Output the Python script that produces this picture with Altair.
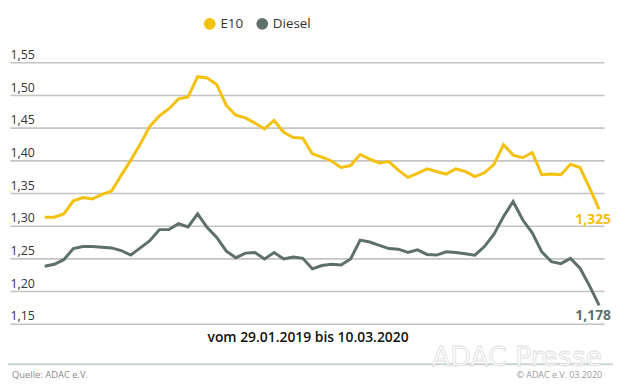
import altair as alt
import pandas as pd

# --- data (weekly, 29.01.2019 - 10.03.2020) ---
dates = pd.date_range("2019-01-29", periods=59, freq="7D").strftime("%Y-%m-%d").tolist()

e10 = [1.313, 1.313, 1.318, 1.338, 1.343, 1.341, 1.348, 1.353, 1.377, 1.400,
       1.425, 1.452, 1.468, 1.479, 1.494, 1.497, 1.528, 1.526, 1.516, 1.484,
       1.469, 1.465, 1.457, 1.448, 1.461, 1.443, 1.435, 1.434, 1.410, 1.405,
       1.399, 1.389, 1.392, 1.409, 1.402, 1.396, 1.398, 1.385, 1.374, 1.380,
       1.387, 1.383, 1.379, 1.387, 1.383, 1.375, 1.381, 1.394, 1.424, 1.408,
       1.404, 1.412, 1.378, 1.379, 1.378, 1.394, 1.389, 1.358, 1.325]

diesel = [1.238, 1.241, 1.248, 1.265, 1.268, 1.268, 1.267, 1.266, 1.262, 1.255,
          1.266, 1.277, 1.294, 1.294, 1.303, 1.298, 1.318, 1.297, 1.282, 1.261,
          1.251, 1.258, 1.259, 1.249, 1.259, 1.249, 1.252, 1.250, 1.234, 1.239,
          1.241, 1.240, 1.249, 1.278, 1.275, 1.270, 1.265, 1.264, 1.259, 1.263,
          1.256, 1.255, 1.260, 1.259, 1.257, 1.255, 1.268, 1.287, 1.314, 1.337,
          1.309, 1.289, 1.260, 1.245, 1.242, 1.250, 1.235, 1.208, 1.178]

series = ["E10", "Diesel"]
colors = ["#F3C10E", "#5F6F6C"]
y_ticks = [1.15, 1.20, 1.25, 1.30, 1.35, 1.40, 1.45, 1.50, 1.55]

subtitle = "vom 29.01.2019 bis 10.03.2020"
source = "Quelle: ADAC e.V."
copyright_txt = "© ADAC e.V. 03.2020"
watermark = "ADAC Presse"

FONT = "Open Sans"

df = pd.DataFrame({
    "datum": dates * 2,
    "sorte": ["E10"] * len(e10) + ["Diesel"] * len(diesel),
    "preis": e10 + diesel,
})

last = pd.DataFrame({
    "datum": [dates[-1], dates[-1]],
    "sorte": series,
    "preis": [e10[-1], diesel[-1]],
    "label": [f"{e10[-1]:.3f}".replace(".", ","), f"{diesel[-1]:.3f}".replace(".", ",")],
})

x_enc = alt.X("datum:T", axis=None,
              scale=alt.Scale(domain=["2019-01-03T14:00:00", "2020-03-13T15:00:00"]))
y_scale = alt.Scale(domain=[1.15, 1.55], nice=False, zero=False)
color_scale = alt.Scale(domain=series, range=colors)

y_axis = alt.Axis(values=y_ticks, grid=True, domain=False, ticks=False,
                  labelOverlap=False, labelFlush=False, labelBound=False,
                  labelAlign="left", labelPadding=0, labelBaseline="alphabetic",
                  labelOffset=-4, labelFontSize=12.5, labelColor="#333333",
                  labelFont=FONT,
                  labelExpr="replace(format(datum.value, '.2f'), '.', ',')",
                  gridColor="#C4C4C4", gridWidth=1.6)

lines = alt.Chart(df).mark_line(strokeWidth=3).encode(
    x=x_enc,
    y=alt.Y("preis:Q", scale=y_scale, title=None, axis=y_axis),
    color=alt.Color("sorte:N", scale=color_scale, sort=series,
                    legend=alt.Legend(title=None, orient="none", direction="horizontal",
                                      legendX=195, legendY=-46, symbolType="circle",
                                      symbolSize=140, symbolStrokeWidth=0,
                                      labelFontSize=13.5, labelFont=FONT, labelColor="#333333",
                                      columnPadding=12, labelOffset=4)),
)

end_labels = alt.Chart(last).mark_text(fontSize=14, fontWeight="bold", font=FONT,
                                       align="center", baseline="middle",
                                       dx=-6, dy=11).encode(
    x=x_enc,
    y=alt.Y("preis:Q", scale=y_scale, title=None, axis=y_axis),
    text="label:N",
    color=alt.Color("sorte:N", scale=color_scale, legend=None),
)

sub = alt.Chart(pd.DataFrame({"t": [subtitle]})).mark_text(
    fontSize=14, fontWeight=600, font=FONT, color="#111111", align="center", baseline="middle"
).encode(x=alt.value(301), y=alt.value(278), text="t:N")

sep = alt.Chart(pd.DataFrame({"a": [0]})).mark_rule(color="#C9D4D1", strokeWidth=2).encode(
    x=alt.value(-2), x2=alt.value(609), y=alt.value(305))

wm = alt.Chart(pd.DataFrame({"t": [watermark]})).mark_text(
    fontSize=27, font="DejaVu Sans", fill="#FFFFFF", stroke="#DADADA", strokeWidth=0.8,
    align="center", baseline="middle", opacity=0.9
).encode(x=alt.value(512), y=alt.value(299), text="t:N")

src = alt.Chart(pd.DataFrame({"t": [source]})).mark_text(
    fontSize=9.5, font=FONT, color="#8A8A8A", align="left", baseline="middle"
).encode(x=alt.value(2), y=alt.value(316), text="t:N")

copy = alt.Chart(pd.DataFrame({"t": [copyright_txt]})).mark_text(
    fontSize=9, font=FONT, color="#9A9A9A", align="right", baseline="middle"
).encode(x=alt.value(598), y=alt.value(316), text="t:N")

chart = alt.layer(lines, end_labels, sub, sep, wm, src, copy).properties(
    width=600, height=264,
    autosize=alt.AutoSizeParams(type="none"),
    padding={"left": 2, "top": 53, "right": 9, "bottom": 56},
    background="#FFFFFF",
).configure_view(stroke=None)

chart.save("out.html", embed_options={"renderer": "svg", "actions": False})
